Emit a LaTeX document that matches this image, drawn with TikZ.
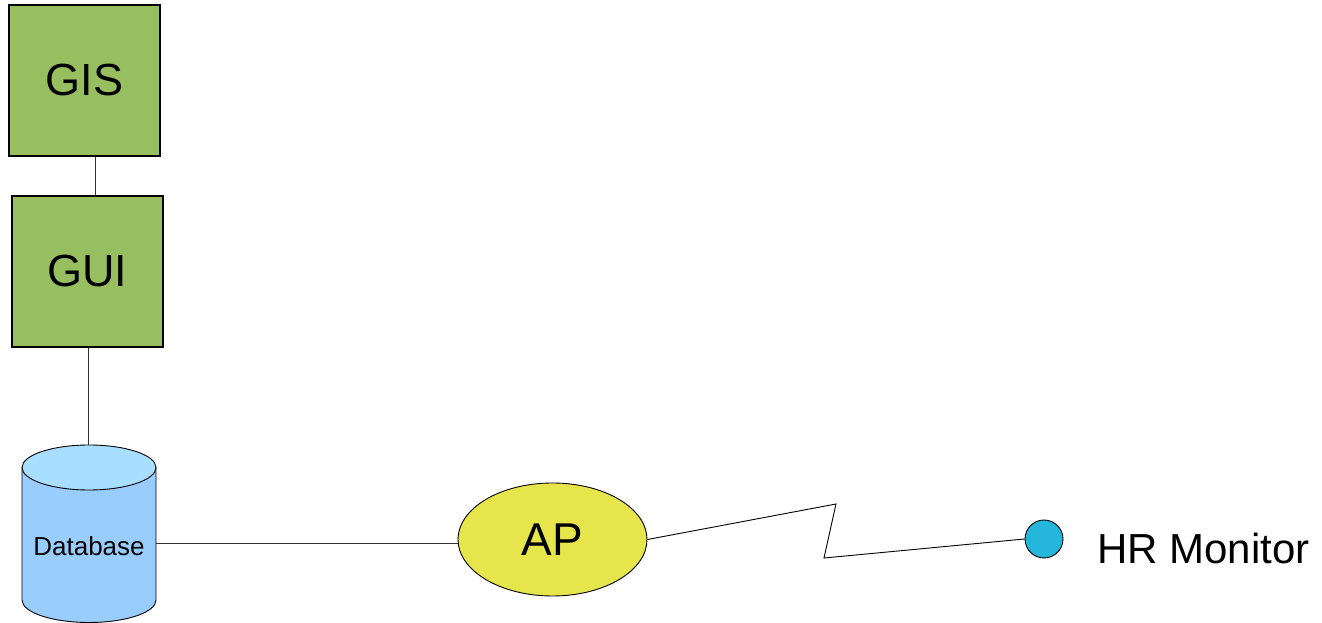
\documentclass[tikz,border=0pt]{standalone}
\usepackage{fontspec}
\setmainfont{Liberation Sans}
\usetikzlibrary{shapes.geometric}
\definecolor{boxgreen}{HTML}{97BF5F}
\definecolor{dbbody}{HTML}{99CCFF}
\definecolor{dbtop}{HTML}{A8DEFF}
\definecolor{apyellow}{HTML}{E6E64C}
\definecolor{hrcyan}{HTML}{25B7DB}
\definecolor{linegray}{HTML}{333333}
\begin{document}
\begin{tikzpicture}[x=1pt,y=1pt,
  greenbox/.style={draw=black, line width=1.1pt, fill=boxgreen, minimum width=151pt, minimum height=151pt, inner sep=0pt, font=\fontsize{45}{50}\selectfont},
  conn/.style={draw=linegray, line width=0.9pt},
]
\useasboundingbox (0,0) rectangle (1322,623);
% nodes
\node[greenbox] (gis) at (84.5,542.5) {GIS};
\node[greenbox] (gui) at (87.5,351.5) {GUI};
% cylinder drawn directly
\fill[dbbody] (22,155.5) -- (22,23) arc[start angle=180, end angle=360, x radius=67, y radius=22.5] -- (156,155.5) -- cycle;
\draw[line width=0.9pt] (22,155.5) -- (22,23) arc[start angle=180, end angle=360, x radius=67, y radius=22.5] -- (156,155.5);
\draw[line width=0.9pt, fill=dbtop] (89,155.5) ellipse[x radius=67, y radius=22.5];
\node[inner sep=0pt, minimum width=134pt, font=\fontsize{26}{30}\selectfont] (db) at (89,76.5) {Database};
\coordinate (dbtopc) at (88,178);
\node[ellipse, draw=black, line width=0.9pt, fill=apyellow, minimum width=189pt, minimum height=113pt, inner sep=0pt, font=\fontsize{46}{50}\selectfont] (ap) at (552.5,83.5) {AP};
\node[circle, draw=black, line width=0.9pt, fill=hrcyan, minimum size=38pt, inner sep=0pt] (hr) at (1044,84) {};
\node[anchor=west, inner sep=0pt, font=\fontsize{42}{46}\selectfont] (hrlabel) at (1097,75) {HR Monitor};
% connectors
\draw[conn] ([xshift=10.5pt]gis.south) -- ([xshift=7.5pt]gui.north);
\draw[conn] ([xshift=0.5pt]gui.south) -- (dbtopc);
\draw[conn] ([yshift=3pt]db.east) -- ([yshift=3pt]db.east -| ap.west);
\coordinate (z1) at (836,119);
\coordinate (z2) at (824,65);
\draw[line width=0.9pt] (ap.east) -- (z1) -- (z2) -- (hr.west);
\end{tikzpicture}
\end{document}
